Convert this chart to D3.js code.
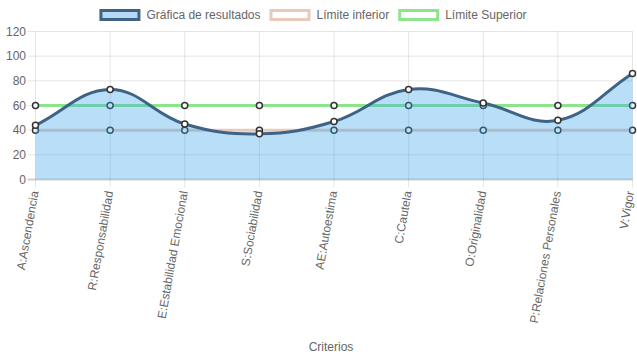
<!DOCTYPE html>
<html><head><meta charset="utf-8">
<script src="https://cdn.jsdelivr.net/npm/d3@7"></script>
<style>body{margin:0;background:#fff} svg{display:block;font-family:"Liberation Sans",Arial,Helvetica,sans-serif}</style>
</head><body><svg id="c" width="637" height="359"></svg>
<script>
const categories = ["A:Ascendencia","R:Responsabilidad","E:Estabilidad Emocional","S:Sociabilidad","AE:Autoestima","C:Cautela","O:Originalidad","P:Relaciones Personales","V:Vigor"];
const resultados = [44,73,45,37,47,73,62,48,86];
const limiteInferior = [40,40,40,40,40,40,40,40,40];
const limiteSuperior = [60,60,60,60,60,60,60,60,60];
const yTicks = [0,20,40,60,80,100,120];
const seriesNames = ["Gráfica de resultados","Límite inferior","Límite Superior"];
const axisTitle = "Criterios";

(function(){
const svg = d3.select("#c");
const pLeft = 35.5, pRight = 632.5, pTop = 31.5, pBottom = 179.5;
const x = d3.scalePoint().domain(categories).range([pLeft, pRight]);
const y = d3.scaleLinear().domain([0,120]).range([pBottom, pTop]);

const cBlue = "rgb(62,99,133)", cFill = "rgba(54,162,235,0.35)";
const cPink = "rgb(232,202,188)", cGreen = "rgb(140,228,140)";

const g = svg.append("g");
yTicks.forEach(t => {
  if (t === 0) return;
  g.append("line").attr("x1", pLeft-8).attr("x2", pRight).attr("y1", y(t)).attr("y2", y(t))
   .attr("stroke","rgba(0,0,0,0.1)").attr("stroke-width",1);
});
categories.forEach(c => {
  g.append("line").attr("x1", x(c)).attr("x2", x(c)).attr("y1", pTop).attr("y2", pBottom+8)
   .attr("stroke","rgba(0,0,0,0.1)").attr("stroke-width",1);
});
g.append("line").attr("x1", pLeft-8).attr("x2", pRight).attr("y1", y(0)).attr("y2", y(0))
 .attr("stroke","rgba(0,0,0,0.18)").attr("stroke-width",2);

function splinePath(vals){
  const pts = vals.map((v,i)=>({x:x(categories[i]), y:y(v)}));
  const t = 0.4, n = pts.length;
  const cps = pts.map((p,i)=>{
    const prev = pts[Math.max(i-1,0)], next = pts[Math.min(i+1,n-1)];
    const d01 = Math.hypot(p.x-prev.x,p.y-prev.y), d12 = Math.hypot(next.x-p.x,next.y-p.y);
    let s01 = d01/(d01+d12), s12 = d12/(d01+d12);
    if (isNaN(s01)) s01=0; if (isNaN(s12)) s12=0;
    const fa = t*s01, fb = t*s12;
    return {px: p.x - fa*(next.x-prev.x), py: p.y - fa*(next.y-prev.y),
            nx: p.x + fb*(next.x-prev.x), ny: p.y + fb*(next.y-prev.y)};
  });
  const clampY = v => Math.max(pTop, Math.min(pBottom, v));
  let d = `M${pts[0].x},${pts[0].y}`;
  for (let i=1;i<n;i++){
    d += `C${cps[i-1].nx},${clampY(cps[i-1].ny)} ${cps[i].px},${clampY(cps[i].py)} ${pts[i].x},${pts[i].y}`;
  }
  return d;
}
function points(vals){
  svg.append("g").selectAll("circle").data(vals).join("circle")
    .attr("cx",(d,i)=>x(categories[i])).attr("cy",d=>y(d)).attr("r",3)
    .attr("fill","#fff").attr("stroke","#333").attr("stroke-width",1.5);
}
const lineGen = d3.line().x((d,i)=>x(categories[i])).y(d=>y(d));

svg.append("path").attr("d", lineGen(limiteSuperior)).attr("fill","none").attr("stroke",cGreen).attr("stroke-width",3);
points(limiteSuperior);
svg.append("path").attr("d", lineGen(limiteInferior)).attr("fill","none").attr("stroke",cPink).attr("stroke-width",3);
points(limiteInferior);
const sp = splinePath(resultados);
svg.append("path").attr("d", sp + `L${x(categories[categories.length-1])},${y(0)}L${x(categories[0])},${y(0)}Z`).attr("fill",cFill);
svg.append("path").attr("d", sp).attr("fill","none").attr("stroke",cBlue).attr("stroke-width",3);
points(resultados);

svg.append("g").selectAll("text").data(yTicks).join("text")
  .attr("x", 26).attr("y", d=>y(d)).attr("dy","0.35em").attr("text-anchor","end")
  .attr("font-size",12).attr("fill","#666").text(d=>d);
svg.append("g").selectAll("text").data(categories).join("text")
  .attr("transform", d=>`translate(${Math.min(x(d)-1, 630)},191) rotate(-80)`)
  .attr("dy","0.35em").attr("text-anchor","end")
  .attr("font-size",12).attr("fill","#666").text(d=>d);
svg.append("text").attr("x",(pLeft+pRight)/2-3).attr("y",347).attr("dy","0.35em").attr("text-anchor","middle")
  .attr("font-size",12).attr("fill","#666").text(axisTitle);

const legendStroke = [cBlue, cPink, cGreen];
const lg = svg.append("g");
const items = seriesNames.map((s,i)=>{
  const t = lg.append("text").attr("font-size",12).attr("fill","#666").attr("dy","0.35em").attr("y",15).text(s);
  return {t, w: t.node().getComputedTextLength(), i};
});
const total = items.reduce((a,it)=>a+41+6+it.w,0) + 9*(items.length-1);
let cx = 313 - total/2;
items.forEach(it=>{
  lg.append("rect").attr("x",cx+1.5).attr("y",10.5).attr("width",38).attr("height",9)
    .attr("fill", it.i===0 ? "rgb(184,217,245)" : "#fff").attr("stroke",legendStroke[it.i]).attr("stroke-width",3);
  it.t.attr("x", cx+47);
  cx += 41+6+it.w+9;
});
})();
</script></body></html>
